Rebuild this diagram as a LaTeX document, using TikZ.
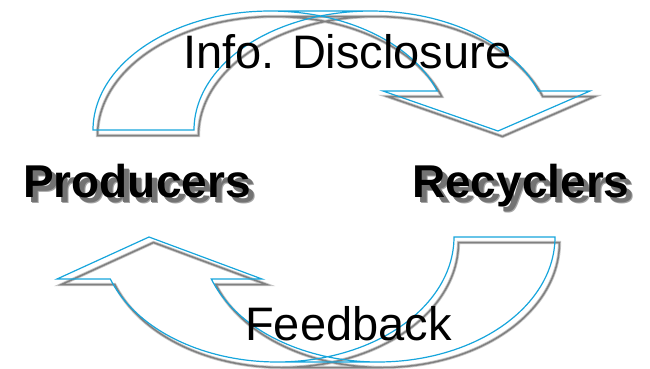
\documentclass[tikz,border=0pt]{standalone}
\usepackage{fontspec}
\setmainfont{Liberation Sans}
\definecolor{arrowblue}{RGB}{22,165,220}
\newcommand{\shadowtext}[1]{\makebox[0pt][l]{\hspace*{6pt}\raisebox{-6pt}{\textcolor{black!35}{#1}}}\makebox[0pt][l]{\hspace*{5pt}\raisebox{-5pt}{\textcolor{black!55}{#1}}}#1}
\begin{document}
\begin{tikzpicture}[x=1pt,y=-1pt,
  shadowwide/.style={draw=black!22,line width=3.2pt,line join=miter},
  shadowline/.style={draw=black!50,line width=1.5pt,line join=miter},
  blueline/.style={draw=arrowblue,line width=1.2pt,line join=miter},
  lbl/.style={inner sep=0pt,anchor=base west,font=\fontsize{47}{56}\selectfont},
  blbl/.style={inner sep=0pt,anchor=base west,font=\fontsize{46}{55}\selectfont\bfseries},
]
\useasboundingbox (0,0) rectangle (650,368);
% ---------- top curved arrow path
\def\toparrow{
  plot[domain=180:270,samples=50] ({270+177*cos(\x)},{130+119*sin(\x)})
  -- (371,11)
  -- plot[domain=270:340.87,samples=40] ({371+177*cos(\x)},{130+119*sin(\x)})
  -- (590,91) -- (498,131) -- (383,91)
  -- plot[domain=340.87:270,samples=40] ({270+177*cos(\x)},{130+119*sin(\x)})
  -- (371,11)
  -- plot[domain=270:180,samples=50] ({371+177*cos(\x)},{130+119*sin(\x)})
  -- cycle}
\def\botarrow{
  plot[domain=0:90,samples=50] ({378+177*cos(\x)},{237+125*sin(\x)})
  -- (277,362)
  -- plot[domain=90:160.37,samples=40] ({277+177*cos(\x)},{237+125*sin(\x)})
  -- (57,279) -- (149,237) -- (262,279)
  -- plot[domain=160.37:90,samples=40] ({378+177*cos(\x)},{237+125*sin(\x)})
  -- (277,362)
  -- plot[domain=90:0,samples=50] ({277+177*cos(\x)},{237+125*sin(\x)})
  -- cycle}
% shadows
\begin{scope}[shift={(4.5,5.5)}]
  \path[shadowwide] \toparrow;
  \path[shadowwide] \botarrow;
  \path[shadowline] \toparrow;
  \path[shadowline] \botarrow;
\end{scope}
% blue outlines
\path[blueline] \toparrow;
\path[blueline] \botarrow;
% labels
\node[lbl] (info) at (183,68) {Info. Disclosure};
\node[lbl] (feed) at (245,340) {Feedback};
\node[blbl] (prod) at (23,197) {\shadowtext{Producers}};
\node[blbl] (rec) at (412,197) {\shadowtext{Recyclers}};
\end{tikzpicture}
\end{document}
